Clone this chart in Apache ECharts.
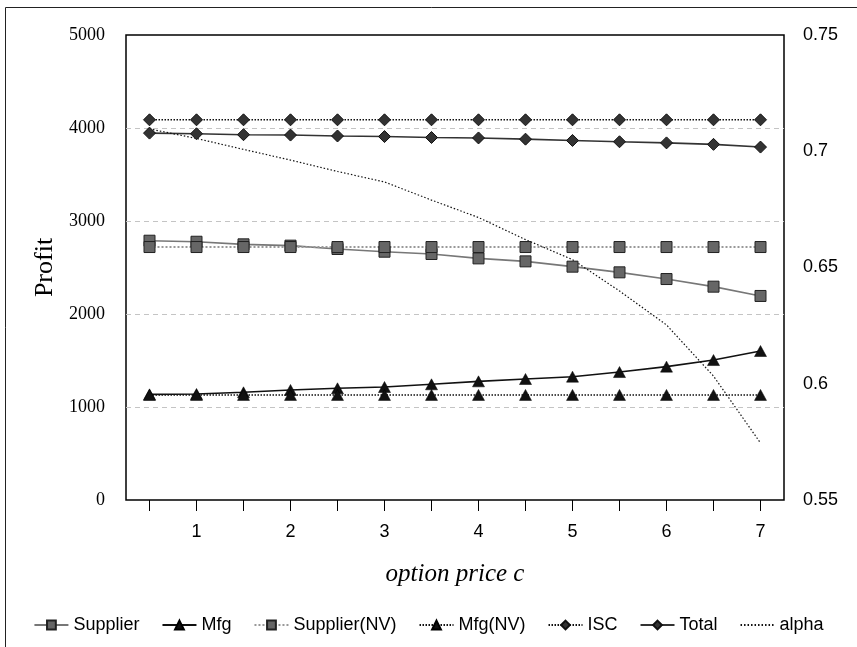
<!DOCTYPE html>
<html>
<head>
<meta charset="utf-8">
<script src="https://cdn.jsdelivr.net/npm/echarts@6/dist/echarts.min.js"></script>
<style>html,body{margin:0;padding:0;background:#fff;}#c{width:857px;height:647px;}</style>
</head>
<body>
<div id="c"></div>
<script>
const optionPrice = ['0.5','1','1.5','2','2.5','3','3.5','4','4.5','5','5.5','6','6.5','7'];
const supplier   = [2788,2777,2749,2735,2699,2670,2645,2598,2566,2509,2448,2376,2294,2194];
const mfg        = [1136,1140,1158,1183,1201,1215,1244,1276,1301,1326,1376,1434,1505,1602];
const supplierNV = [2720,2720,2720,2720,2720,2720,2720,2720,2720,2720,2720,2720,2720,2720];
const mfgNV      = [1130,1130,1130,1130,1130,1130,1130,1130,1130,1130,1130,1130,1130,1130];
const isc        = [4088,4088,4088,4088,4088,4088,4088,4088,4088,4088,4088,4088,4088,4088];
const total      = [3945,3938,3928,3924,3914,3908,3898,3893,3880,3866,3852,3840,3824,3795];
const alpha      = [0.7096,0.7055,0.7008,0.6962,0.6913,0.6868,0.679,0.6715,0.662,0.6534,0.6399,0.6253,0.6033,0.5745];
const profitTicks = {min: 0, max: 5000, interval: 1000};
const alphaTicks = {min: 0.55, max: 0.75, interval: 0.05};

const chart = echarts.init(document.getElementById('c'), null, {renderer: 'canvas'});
const sq = {symbol: 'rect', symbolSize: 11, itemStyle: {color: '#666', borderColor: '#222', borderWidth: 1}};
const tri = {symbol: 'triangle', symbolSize: [12, 11], itemStyle: {color: '#111', borderColor: '#000', borderWidth: 0.5}};
const dia = {symbol: 'diamond', symbolSize: [12, 12], itemStyle: {color: '#333', borderColor: '#111', borderWidth: 1}};
function mk(name, data, marker, line, extra) {
  return Object.assign({
    name, type: 'line', data, showAllSymbol: true, animation: false,
    lineStyle: line, emphasis: {disabled: true}
  }, marker, extra || {});
}
chart.setOption({
  animation: false,
  graphic: [{type: 'rect', shape: {x: 5.5, y: 7.5, width: 900, height: 700}, style: {fill: 'none', stroke: '#222', lineWidth: 1}, silent: true}],
  grid: {left: 126, top: 35, right: 73, bottom: 147, show: true, borderColor: '#000', borderWidth: 1.5, backgroundColor: 'transparent'},
  legend: {
    bottom: 8, left: 'center', itemWidth: 34, itemHeight: 11, itemGap: 22,
    textStyle: {fontFamily: 'Liberation Sans, Arial, sans-serif', fontSize: 18, color: '#000'},
    data: ['Supplier','Mfg','Supplier(NV)','Mfg(NV)','ISC','Total', {name: 'alpha', itemStyle: {opacity: 0}}]
  },
  xAxis: {
    type: 'category', data: optionPrice, boundaryGap: true,
    name: 'option price c', nameLocation: 'middle', nameGap: 62,
    nameTextStyle: {fontFamily: 'Liberation Serif, Times New Roman, serif', fontStyle: 'italic', fontSize: 25, color: '#000'},
    axisLine: {show: false},
    axisTick: {show: true, alignWithLabel: true, interval: 0, length: 11, lineStyle: {color: '#000', width: 1}},
    axisLabel: {interval: (i) => i % 2 === 1, margin: 23, fontFamily: 'Liberation Sans, Arial, sans-serif', fontSize: 18, color: '#000'},
    splitLine: {show: false}
  },
  yAxis: [{
    type: 'value', min: profitTicks.min, max: profitTicks.max, interval: profitTicks.interval,
    name: 'Profit', nameLocation: 'middle', nameGap: 68, nameRotate: 90,
    nameTextStyle: {fontFamily: 'Liberation Serif, Times New Roman, serif', fontSize: 26, color: '#000'},
    axisLine: {show: false}, axisTick: {show: false},
    axisLabel: {margin: 21, fontFamily: 'Liberation Serif, Times New Roman, serif', fontSize: 18, color: '#000',
      formatter: (v) => String(v)},
    splitLine: {show: true, showMinLine: false, showMaxLine: false, lineStyle: {color: '#c4c4c4', type: [5, 4], width: 1}}
  }, {
    type: 'value', min: alphaTicks.min, max: alphaTicks.max, interval: alphaTicks.interval, position: 'right',
    axisLine: {show: false}, axisTick: {show: false},
    axisLabel: {margin: 19, fontFamily: 'Liberation Sans, Arial, sans-serif', fontSize: 18, color: '#000',
      formatter: (v) => String(+v.toFixed(2))},
    splitLine: {show: false}
  }],
  series: [
    mk('Supplier', supplier, sq, {color: '#777', width: 1.6, type: 'solid'}),
    mk('Mfg', mfg, tri, {color: '#111', width: 1.6, type: 'solid'}),
    mk('Supplier(NV)', supplierNV, sq, {color: '#999', width: 2, type: [2, 2]}),
    mk('Mfg(NV)', mfgNV, tri, {color: '#111', width: 1.5, type: [1.5, 1.5]}),
    mk('ISC', isc, dia, {color: '#111', width: 1.5, type: [1.5, 1.5]}),
    mk('Total', total, dia, {color: '#333', width: 1.6, type: 'solid'}),
    mk('alpha', alpha, {symbol: 'none', itemStyle: {color: '#111'}}, {color: '#111', width: 1.2, type: [1.5, 2]}, {yAxisIndex: 1})
  ]
});
</script>
</body>
</html>
